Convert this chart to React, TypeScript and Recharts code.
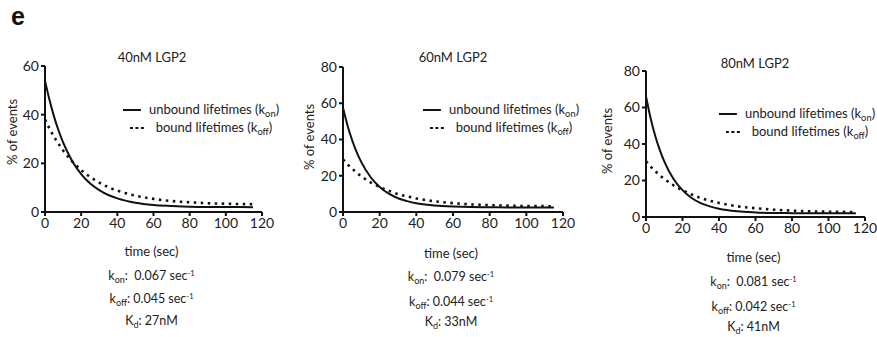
import React from 'react';
import { LineChart, Line, XAxis, YAxis } from 'recharts';

// ---- data ----
const times = [0, 2.5, 5, 7.5, 10, 15, 20, 25, 30, 35, 40, 50, 60, 70, 80, 90, 100, 115];

const unbound40 = [54, 46.0, 39.2, 33.5, 28.6, 21.0, 15.6, 11.7, 9.0, 7.0, 5.6, 3.8, 2.9, 2.5, 2.2, 2.1, 2.1, 2.0];
const bound40 = [38, 34.3, 30.9, 28.0, 25.3, 20.8, 17.2, 14.4, 12.1, 10.2, 8.8, 6.7, 5.4, 4.5, 4.0, 3.6, 3.4, 3.2];

const unbound60 = [57.5, 47.6, 39.6, 32.9, 27.5, 19.3, 13.8, 10.1, 7.6, 6.0, 4.8, 3.6, 3.0, 2.7, 2.6, 2.5, 2.5, 2.5];
const bound60 = [29, 26.3, 23.9, 21.7, 19.7, 16.4, 13.8, 11.7, 9.9, 8.6, 7.5, 5.9, 4.9, 4.2, 3.8, 3.5, 3.3, 3.2];

const unbound80 = [66, 54.3, 44.7, 36.9, 30.5, 21.0, 14.7, 10.4, 7.6, 5.8, 4.5, 3.1, 2.5, 2.2, 2.1, 2.0, 2.0, 2.0];
const bound80 = [30.5, 27.7, 25.2, 22.9, 20.9, 17.4, 14.6, 12.3, 10.4, 8.9, 7.7, 5.9, 4.8, 4.0, 3.5, 3.1, 2.9, 2.7];

const titles = ['40nM LGP2', '60nM LGP2', '80nM LGP2'];
const konValues = ['0.067', '0.079', '0.081'];
const koffValues = ['0.045', '0.044', '0.042'];
const kdValues = ['27nM', '33nM', '41nM'];
const yMaxes = [60, 80, 80];
const xTicks = [0, 20, 40, 60, 80, 100, 120];
const yTicks60 = [0, 20, 40, 60];
const yTicks80 = [0, 20, 40, 60, 80];

const unboundSeries = [unbound40, unbound60, unbound80];
const boundSeries = [bound40, bound60, bound80];
const yTickSets = [yTicks60, yTicks80, yTicks80];

// ---- layout ----
const FONT = 'Lato, "Open Sans", sans-serif';
const INK = '#111';
const TEXT = '#222';

const layouts = [
  { left: 45, top: 66, right: 262, bottom: 212, titleX: 152, titleY: 57, ylabX: 12, ylabY: 132, legX: 201, legY: 110, xlabY: 251, konY: 276, koffY: 299, kdY: 321 },
  { left: 343, top: 67, right: 563, bottom: 212, titleX: 453, titleY: 57, ylabX: 309, ylabY: 137, legX: 501, legY: 110, xlabY: 253, konY: 277, koffY: 302, kdY: 322 },
  { left: 646, top: 71, right: 865, bottom: 217, titleX: 755, titleY: 63, ylabX: 607, ylabY: 141, legX: 797, legY: 114, xlabY: 257, konY: 282, koffY: 307, kdY: 327 },
];

const centered = (x: number, y: number, extra: React.CSSProperties = {}): React.CSSProperties => ({
  position: 'absolute',
  left: x,
  top: y,
  transform: 'translate(-50%, -50%)',
  whiteSpace: 'nowrap',
  fontFamily: FONT,
  color: TEXT,
  lineHeight: 1,
  ...extra,
});

const Sub = ({ children }: { children: React.ReactNode }) => (
  <span style={{ fontSize: '0.72em', position: 'relative', top: '0.35em' }}>{children}</span>
);
const Sup = ({ children }: { children: React.ReactNode }) => (
  <span style={{ fontSize: '0.6em', position: 'relative', top: '-0.55em' }}>{children}</span>
);

function Panel({ i }: { i: number }) {
  const p = layouts[i];
  const data = times.map((t, k) => ({ t, unbound: unboundSeries[i][k], bound: boundSeries[i][k] }));
  const YW = 40;
  const MT = 10;
  const MR = 14;
  const XH = 30;
  const plotW = p.right - p.left;
  const plotH = p.bottom - p.top;
  const tickStyle = { fill: TEXT, fontSize: 14, fontFamily: FONT };
  return (
    <>
      <div style={{ position: 'absolute', left: p.left - YW, top: p.top - MT }}>
        <LineChart
          width={plotW + YW + MR}
          height={plotH + MT + XH}
          margin={{ top: MT, right: MR, bottom: 0, left: 0 }}
          data={data}
        >
          <XAxis
            type="number"
            dataKey="t"
            domain={[0, 120]}
            ticks={xTicks}
            interval={0}
            height={XH}
            axisLine={{ stroke: INK, strokeWidth: 2 }}
            tickLine={{ stroke: INK, strokeWidth: 2 }}
            tickSize={4}
            tickMargin={2}
            tick={tickStyle}
          />
          <YAxis
            type="number"
            domain={[0, yMaxes[i]]}
            ticks={yTickSets[i]}
            interval={0}
            width={YW}
            axisLine={{ stroke: INK, strokeWidth: 2 }}
            tickLine={{ stroke: INK, strokeWidth: 2 }}
            tickSize={4}
            tickMargin={2}
            tick={tickStyle}
          />
          <Line dataKey="unbound" type="monotone" stroke={INK} strokeWidth={2} dot={false} isAnimationActive={false} />
          <Line dataKey="bound" type="monotone" stroke={INK} strokeWidth={2.6} strokeDasharray="2.5 4.5" dot={false} isAnimationActive={false} />
        </LineChart>
      </div>
      <div style={centered(p.titleX, p.titleY, { fontSize: 13 })}>{titles[i]}</div>
      <div style={centered(p.ylabX, p.ylabY, { transform: 'translate(-50%, -50%) rotate(-90deg)', fontSize: 13 })}>% of events</div>
      <div
        style={{
          position: 'absolute',
          left: p.legX,
          top: p.legY,
          transform: 'translate(-50%, -9px)',
          display: 'flex',
          flexDirection: 'column',
          alignItems: 'center',
          fontFamily: FONT,
          fontSize: 13,
          color: TEXT,
          whiteSpace: 'nowrap',
          lineHeight: '17px',
        }}
      >
        <div style={{ display: 'flex', alignItems: 'center' }}>
          <svg width={18} height={6} style={{ marginRight: 8 }}>
            <line x1={0} y1={3} x2={18} y2={3} stroke={INK} strokeWidth={2} />
          </svg>
          <span>
            unbound lifetimes (k<Sub>on</Sub>)
          </span>
        </div>
        <div style={{ display: 'flex', alignItems: 'center' }}>
          <svg width={14} height={6} style={{ marginRight: 12 }}>
            <line x1={0} y1={3} x2={14} y2={3} stroke={INK} strokeWidth={2} strokeDasharray="3 2.5" />
          </svg>
          <span>
            bound lifetimes (k<Sub>off</Sub>)
          </span>
        </div>
      </div>
      <div style={centered((p.left + p.right) / 2 - 2, p.xlabY, { fontSize: 13 })}>time (sec)</div>
      <div style={centered((p.left + p.right) / 2 - 2, p.konY, { fontSize: 12.5 })}>
        k<Sub>on</Sub>:&nbsp; {konValues[i]} sec<Sup>-1</Sup>
      </div>
      <div style={centered((p.left + p.right) / 2 - 2, p.koffY, { fontSize: 12.5 })}>
        k<Sub>off</Sub>: {koffValues[i]} sec<Sup>-1</Sup>
      </div>
      <div style={centered((p.left + p.right) / 2 - 2, p.kdY, { fontSize: 12.5 })}>
        K<Sub>d</Sub>: {kdValues[i]}
      </div>
    </>
  );
}

export default function App() {
  return (
    <div
      style={{
        position: 'absolute',
        left: 0,
        top: 0,
        width: 877,
        height: 337,
        overflow: 'hidden',
        background: '#fff',
      }}
    >
      <div
        style={{
          position: 'absolute',
          left: 11,
          top: 4,
          fontFamily: '"Liberation Sans", Arial, sans-serif',
          fontWeight: 'bold',
          fontSize: 25,
          color: '#111',
          lineHeight: 1,
        }}
      >
        e
      </div>
      {[0, 1, 2].map((i) => (
        <Panel key={i} i={i} />
      ))}
    </div>
  );
}
